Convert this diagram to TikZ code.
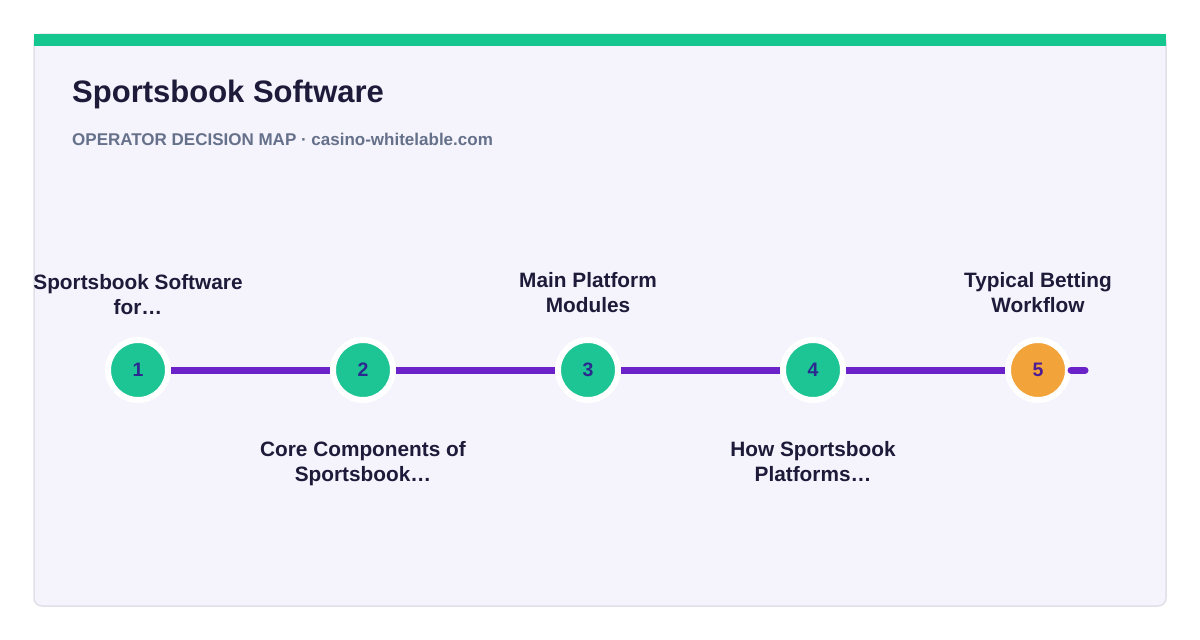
\documentclass[tikz,border=0pt]{standalone}
\usepackage{fontspec}
\setmainfont{Liberation Sans}
\usepackage{xcolor}
\usetikzlibrary{positioning}

\definecolor{cardbg}{HTML}{F5F3FB}
\definecolor{cardline}{HTML}{E1DFE8}
\definecolor{topgreen}{HTML}{16C68F}
\definecolor{stepgreen}{HTML}{1CC593}
\definecolor{steporange}{HTML}{F2A43B}
\definecolor{trackpurple}{HTML}{6C22C9}
\definecolor{titleink}{HTML}{1E1B3A}
\definecolor{subink}{HTML}{65708A}
\definecolor{numink}{HTML}{2B2990}
\definecolor{numpurple}{HTML}{4C1D95}

\tikzset{
  stepdot/.style={circle, minimum size=60pt, inner sep=0pt, fill=stepgreen, draw=white,
    line width=6pt, text=numink, font=\fontsize{19.5}{22}\selectfont\bfseries},
  lastdot/.style={stepdot, fill=steporange, text=numpurple},
  steplbl/.style={align=center, inner sep=0pt, text=titleink,
    font=\fontsize{20.8}{25}\selectfont\bfseries},
  track/.style={line width=7pt, trackpurple}
}

\begin{document}
\begin{tikzpicture}[x=1pt, y=-1pt]

    \useasboundingbox (0,0) rectangle (1200,640);
    \fill[white] (0,0) rectangle (1200,640);

    % card
    \draw[cardline, fill=cardbg, line width=1.5pt, rounded corners=8pt] (34,34) rectangle (1166,606);
    \fill[topgreen] (34,34) rectangle (1166,46);

    \node[anchor=base west, text=titleink, font=\fontsize{31}{34}\selectfont\bfseries, inner sep=0pt]
        (title) at (72,102) {Sportsbook Software};
    \node[anchor=base west, text=subink, font=\fontsize{17}{20}\selectfont\bfseries, inner sep=0pt]
        (subtitle) at (72,145) {OPERATOR DECISION MAP · casino-whitelable.com};

    % steps
    \foreach \i/\x in {1/138, 2/363, 3/588, 4/813}
    \node[stepdot] (c\i) at (\x,370) {\i};
    \node[lastdot] (c5) at (1038,370) {5};
    \coordinate (trackend) at (1085,370);

    \draw[track] (c1) -- (c2);
    \draw[track] (c2) -- (c3);
    \draw[track] (c3) -- (c4);
    \draw[track] (c4) -- (c5);
    \draw[track, line cap=round] (c5) -- (trackend);

    \node[steplbl, above=22pt of c1] (l1) {Sportsbook Software\\for\dots};
    \node[steplbl, below=38pt of c2] (l2) {Core Components of\\Sportsbook\dots};
    \node[steplbl, above=24pt of c3] (l3) {Main Platform\\Modules};
    \node[steplbl, below=38pt of c4] (l4) {How Sportsbook\\Platforms\dots};
    \node[steplbl, above=24pt of c5] (l5) {Typical Betting\\Workflow};
\end{tikzpicture}
\end{document}
